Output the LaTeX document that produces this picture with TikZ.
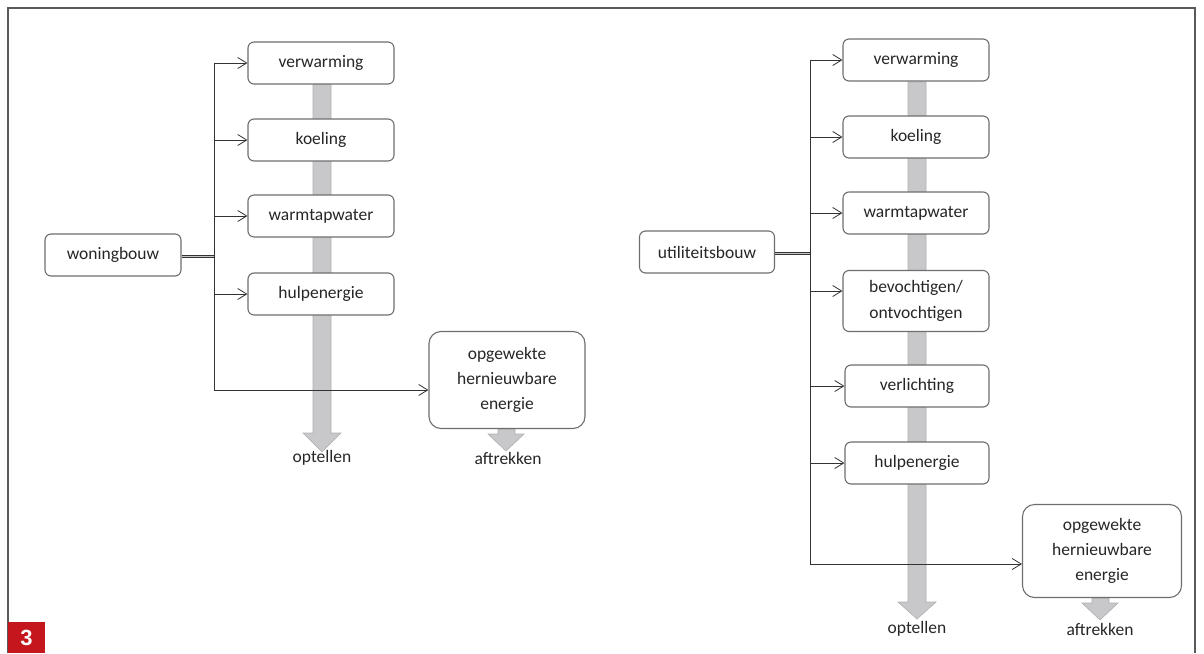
\documentclass[tikz,border=0pt]{standalone}
\usepackage{fontspec}
\setmainfont{Carlito}
\newfontfamily\badgefont{Liberation Sans}
\usetikzlibrary{arrows.meta}
\definecolor{barfill}{HTML}{C8C8CA}
\definecolor{baredge}{HTML}{AFAFB2}
\definecolor{boxedge}{HTML}{6E6E6E}
\definecolor{linec}{HTML}{333333}
\definecolor{txtc}{HTML}{262626}
\definecolor{badgered}{HTML}{C4161C}
\tikzset{
  box/.style={draw=boxedge, line width=1.1pt, fill=white, rounded corners=6pt,
    minimum width=146pt, minimum height=42pt, inner sep=2pt, align=center,
    text=txtc, font=\fontsize{17.5}{25}\selectfont},
  lbl/.style={text=txtc, font=\fontsize{17.5}{20}\selectfont, inner sep=0pt},
  bus/.style={draw=linec, line width=0.8pt},
  feed/.style={draw=linec, line width=0.8pt, -{Straight Barb[length=9pt,width=11pt,line width=0.8pt]}},
  dbl/.style={draw=linec, line width=0.9pt, double=gray!45, double distance=1.6pt},
  bararrow/.style={fill=barfill, draw=baredge, line width=0.6pt},
}
\begin{document}
\begin{tikzpicture}[x=1pt,y=-1pt]
\useasboundingbox (0,0) rectangle (1204,653);
% frame
\draw[draw=gray!70!black, line width=1.2pt] (8,653) -- (8,8) -- (1195,8) -- (1195,653);

% ---------- left ----------
\draw[bararrow] (313,84) -- (313,433) -- (303,433) -- (322,452) -- (341,433) -- (331,433) -- (331,84) -- cycle;
\draw[bararrow] (498,429) -- (498,434) -- (488,434) -- (506,451) -- (524,434) -- (515,434) -- (515,429) -- cycle;

\coordinate (Lbus) at (214,256.5);
\coordinate (Ltop) at (214,63);
\coordinate (Lbot) at (214,390);
\node[box, minimum width=136pt] (won) at (113,255) {woningbouw};
\node[box] (L1) at (321,63) {verwarming};
\node[box] (L2) at (321,140) {koeling};
\node[box] (L3) at (321,216) {warmtapwater};
\node[box] (L4) at (321,294) {hulpenergie};
\node[box, minimum width=156pt, minimum height=97pt, rounded corners=12pt] (L5) at (507,380) {opgewekte\\hernieuwbare\\energie};

\draw[bus] (Ltop) -- (Lbot);
\draw[dbl] (won.east |- Lbus) -- (Lbus);
\draw[feed] (Ltop) -- (L1.west);
\draw[feed] (214,140) -- (L2.west);
\draw[feed] (214,216) -- (L3.west);
\draw[feed] (214,294) -- (L4.west);
\draw[feed] (Lbot) -- (L5.west |- Lbot);
\node[lbl] (Lopt) at (322,458) {optellen};
\node[lbl] (Laft) at (508,458) {aftrekken};

% ---------- right ----------
\draw[bararrow] (908,82) -- (908,602) -- (898,602) -- (917,619) -- (936,602) -- (926,602) -- (926,82) -- cycle;
\draw[bararrow] (1092,598) -- (1092,603) -- (1082,603) -- (1100,620) -- (1118,603) -- (1109,603) -- (1109,598) -- cycle;

\coordinate (Rbus) at (810,253.5);
\coordinate (Rtop) at (810,60);
\coordinate (Rbot) at (810,564);
\node[box, minimum width=135pt] (uti) at (707,252) {utiliteitsbouw};
\node[box] (R1) at (916,60) {verwarming};
\node[box] (R2) at (916,137) {koeling};
\node[box] (R3) at (916,213) {warmtapwater};
\node[box, minimum height=61pt, font=\fontsize{17.5}{26}\selectfont] (R4) at (916,301) {bevochtigen/\\ontvochtigen};
\node[box, minimum width=144pt] (R5) at (917,386) {verlichting};
\node[box, minimum width=144pt] (R6) at (917,463) {hulpenergie};
\node[box, minimum width=159pt, minimum height=93pt, rounded corners=12pt] (R7) at (1102,551) {opgewekte\\hernieuwbare\\energie};

\draw[bus] (Rtop) -- (Rbot);
\draw[dbl] (uti.east |- Rbus) -- (Rbus);
\draw[feed] (Rtop) -- (R1.west);
\draw[feed] (810,137) -- (R2.west);
\draw[feed] (810,213) -- (R3.west);
\draw[feed] (810,291) -- (R4.west |- 0,291);
\draw[feed] (810,386) -- (R5.west);
\draw[feed] (810,463) -- (R6.west);
\draw[feed] (Rbot) -- (R7.west |- Rbot);
\node[lbl] (Ropt) at (917,629) {optellen};
\node[lbl] (Raft) at (1100,629) {aftrekken};

% badge
\fill[badgered] (8,622) rectangle (45,653);
\node[text=white, font=\badgefont\bfseries\fontsize{22}{22}\selectfont, inner sep=0pt] (badge) at (26.5,638) {3};
\end{tikzpicture}
\end{document}
